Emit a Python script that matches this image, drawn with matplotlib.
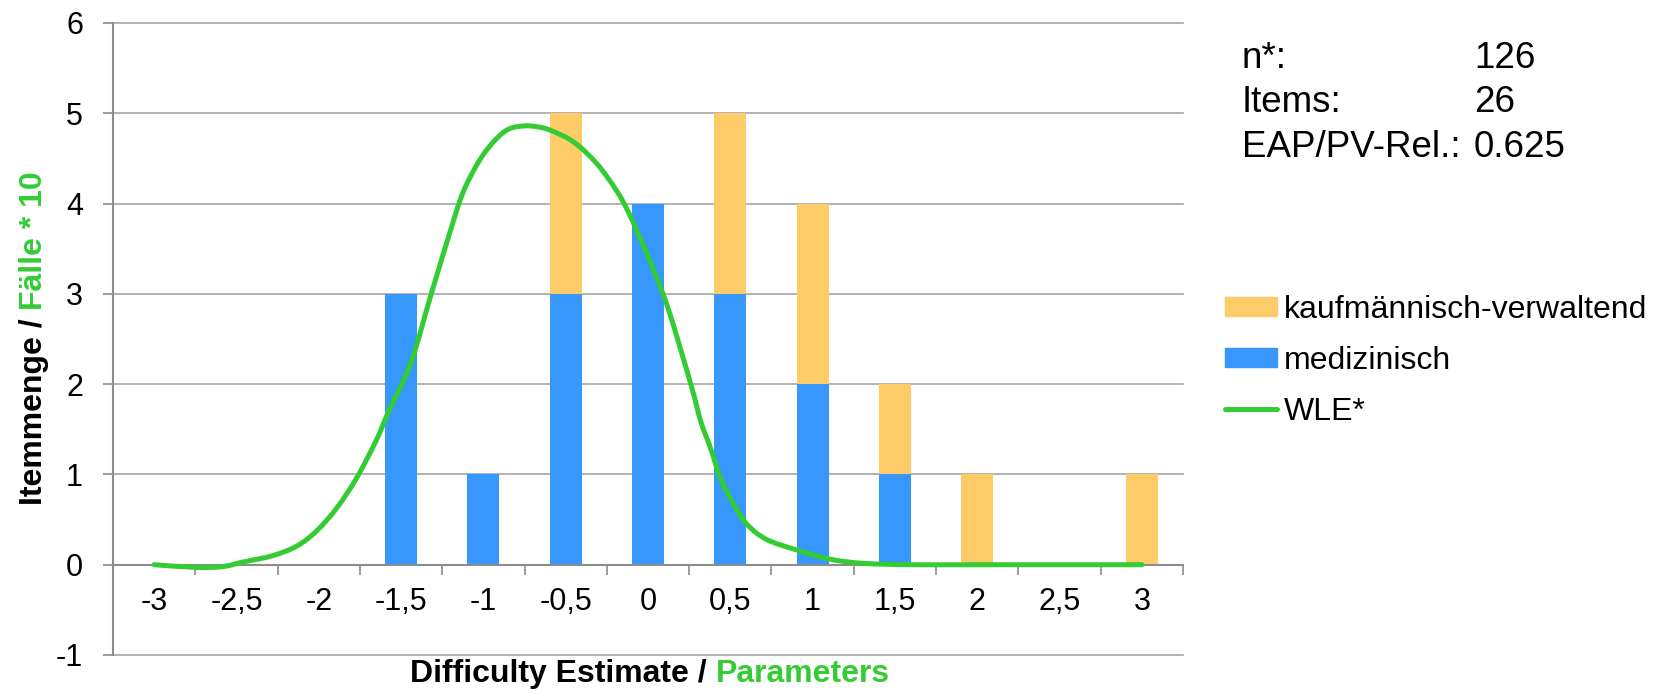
import matplotlib
matplotlib.use('Agg')
import matplotlib.pyplot as plt
from matplotlib.patches import Patch, PathPatch
from matplotlib.lines import Line2D
from matplotlib.path import Path

plt.rcParams['font.family'] = ['Liberation Sans', 'DejaVu Sans']
plt.rcParams['axes.unicode_minus'] = False

# Daten
categories = [-3, -2.5, -2, -1.5, -1, -0.5, 0, 0.5, 1, 1.5, 2, 2.5, 3]
tick_labels = ['-3', '-2,5', '-2', '-1,5', '-1', '-0,5', '0', '0,5', '1', '1,5', '2', '2,5', '3']
medizinisch = [0, 0, 0, 3, 1, 3, 4, 3, 2, 1, 0, 0, 0]
kaufmaennisch = [0, 0, 0, 0, 0, 2, 0, 2, 2, 1, 1, 0, 1]

# WLE-Verteilung
wle_x = [-3.00, -2.74, -2.58, -2.46, -2.28, -2.13, -2.01, -1.89, -1.77, -1.65,
         -1.58, -1.44, -1.32, -1.19, -1.12, -1.02, -0.92, -0.84, -0.75, -0.67,
         -0.59, -0.45, -0.31, -0.19, -0.11, 0.01, 0.12, 0.26, 0.32, 0.38,
         0.44, 0.52, 0.60, 0.72, 0.91, 1.11, 1.31, 1.60, 2.00, 2.50, 3.00]
wle_y = [0.00, -0.03, -0.02, 0.03, 0.10, 0.21, 0.38, 0.63, 0.96, 1.38,
         1.68, 2.24, 2.98, 3.76, 4.14, 4.49, 4.72, 4.83, 4.86, 4.85,
         4.81, 4.68, 4.44, 4.14, 3.87, 3.37, 2.85, 2.00, 1.59, 1.29,
         0.96, 0.67, 0.45, 0.28, 0.16, 0.06, 0.015, 0.0, 0.0, 0.0, 0.0]

stats_labels = ['n*:', 'Items:', 'EAP/PV-Rel.:']
stats_values = ['126', '26', '0.625']

BLUE = '#3797fd'
ORANGE = '#fecb69'
GREEN = '#33cc33'
GRID = '#a6a6a6'
AXIS = '#8c8c8c'


def smooth_path(xs, ys):
    # geglaettete Linie wie in Excel (Catmull-Rom als Bezier)
    pts = list(zip(xs, ys))
    verts = [pts[0]]
    codes = [Path.MOVETO]
    n = len(pts)
    for i in range(n - 1):
        p0 = pts[i - 1] if i > 0 else pts[i]
        p1 = pts[i]
        p2 = pts[i + 1]
        p3 = pts[i + 2] if i + 2 < n else pts[i + 1]
        c1 = (p1[0] + (p2[0] - p0[0]) / 6, p1[1] + (p2[1] - p0[1]) / 6)
        c2 = (p2[0] - (p3[0] - p1[0]) / 6, p2[1] - (p3[1] - p1[1]) / 6)
        verts += [c1, c2, p2]
        codes += [Path.CURVE4] * 3
    return Path(verts, codes)


W, H = 1653, 694
fig = plt.figure(figsize=(W / 100, H / 100), dpi=100)
ax = fig.add_axes([113 / W, 39 / H, 1070 / W, 632 / H])

bar_w = 0.195
ax.bar(categories, medizinisch, width=bar_w, color=BLUE, zorder=2)
ax.bar(categories, kaufmaennisch, width=bar_w, bottom=medizinisch, color=ORANGE, zorder=2)
ax.add_patch(PathPatch(smooth_path(wle_x, wle_y), fill=False, edgecolor=GREEN,
                       lw=3.6, capstyle='round', joinstyle='round', zorder=4))

ax.set_xlim(-3.25, 3.25)
ax.set_ylim(-1, 6)
ax.set_yticks(range(-1, 7))
ax.yaxis.grid(True, color=GRID, lw=1.2, zorder=0)
for gl in ax.get_ygridlines():
    gl.set_clip_on(False)
ax.set_axisbelow(True)

for s in ['top', 'right']:
    ax.spines[s].set_visible(False)
ax.spines['left'].set_color(AXIS)
ax.spines['left'].set_linewidth(1.5)
ax.spines['bottom'].set_position(('data', 0))
ax.spines['bottom'].set_color(AXIS)
ax.spines['bottom'].set_linewidth(1.5)
ax.spines['bottom'].set_zorder(3)

ax.tick_params(axis='y', direction='out', length=7.2, width=1.2, color=AXIS,
               pad=14.4, labelsize=22)
ax.set_xticks(categories, tick_labels)
ax.set_xticks([c + 0.25 for c in categories], minor=True)
ax.tick_params(axis='x', which='major', length=0, pad=16, labelsize=22)
ax.tick_params(axis='x', which='minor', direction='out', length=7.2, width=1.2, color=AXIS)

# zweifarbige Achsentitel
fig.canvas.draw()
renderer = fig.canvas.get_renderer()


def text_width(s, **kw):
    t = fig.text(0, 0, s, **kw)
    w = t.get_window_extent(renderer).width
    t.remove()
    return w


def two_color_label(first, second, cx, cy, vertical=False):
    kw = dict(fontsize=23, fontweight='bold')
    w_first = text_width(first + second[0], **kw) - text_width(second[0], **kw)
    w_total = text_width(first + second, **kw)
    start = (cy if vertical else cx) - w_total / 2
    if vertical:
        for s, off, col in [(first, 0, 'black'), (second, w_first, GREEN)]:
            fig.text(cx / W, (start + off) / H, s, rotation=90, rotation_mode='anchor',
                     ha='left', va='baseline', color=col, **kw)
    else:
        for s, off, col in [(first, 0, 'black'), (second, w_first, GREEN)]:
            fig.text((start + off) / W, cy / H, s, ha='left', va='baseline', color=col, **kw)


two_color_label('Difficulty Estimate / ', 'Parameters', 650, 12)
two_color_label('Itemmenge / ', 'Fälle * 10', 42, 356, vertical=True)

# Kennwerte
for i, (lab, val) in enumerate(zip(stats_labels, stats_values)):
    y = 1 - (68 + i * 44.5) / H
    fig.text(1242 / W, y, lab, fontsize=26.5, va='baseline', ha='left')
    fig.text(1474 / W, y, val, fontsize=26.5, va='baseline', ha='left')

handles = [Patch(color=ORANGE), Patch(color=BLUE),
           Line2D([], [], color=GREEN, lw=3.6, solid_capstyle='round')]
fig.legend(handles, ['kaufmännisch-verwaltend', 'medizinisch', 'WLE*'],
           loc='upper left', bbox_to_anchor=(1225 / W, 1 - 295 / H), frameon=False,
           fontsize=23, borderpad=0, borderaxespad=0, handlelength=1.63,
           handleheight=0.55, handletextpad=0.2, labelspacing=0.65)

fig.savefig('out.png', dpi=100)
